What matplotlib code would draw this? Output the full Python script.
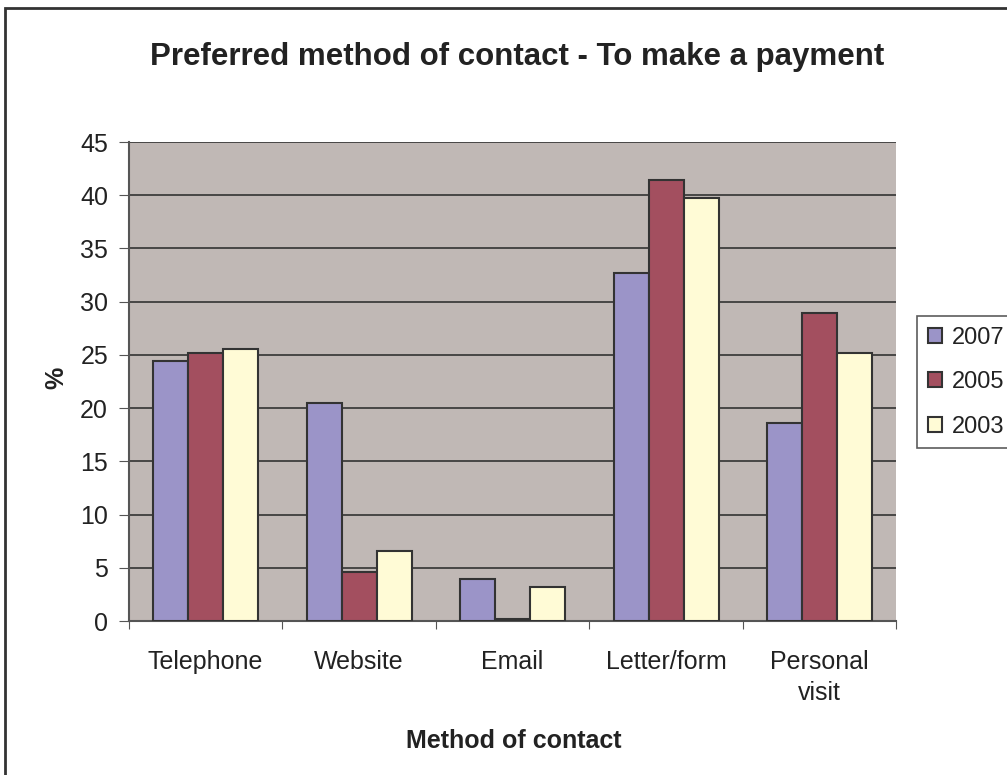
import matplotlib.pyplot as plt
import numpy as np
from matplotlib.patches import Rectangle

plt.rcParams['font.family'] = ['Liberation Sans', 'DejaVu Sans']

# Share of respondents (%) by method of contact
methods = ['Telephone', 'Website', 'Email', 'Letter/form', 'Personal\nvisit']
years = ['2007', '2005', '2003']
v2007 = [24.4, 20.5, 3.9, 32.7, 18.6]
v2005 = [25.2, 4.6, 0.2, 41.4, 28.9]
v2003 = [25.6, 6.6, 3.2, 39.7, 25.2]
colors = ['#9b94c8', '#a34f5f', '#fffbd6']

fig = plt.figure(figsize=(10.07, 7.75), dpi=100)
ax = fig.add_axes([0.128, 0.1987, 0.762, 0.618])
ax.set_facecolor('#c0b8b5')

x = np.arange(len(methods))
w = 0.228
for i, (vals, lab, c) in enumerate(zip([v2007, v2005, v2003], years, colors)):
    ax.bar(x + (i - 1) * w, vals, width=w, color=c, edgecolor='#333333',
           linewidth=1.5, label=lab, zorder=3)

ax.set_xlim(-0.5, len(methods) - 0.5)
ax.set_ylim(0, 45)
ax.set_yticks(np.arange(0, 46, 5))
ax.yaxis.grid(True, color='#333333', linewidth=1.2, zorder=1)
ax.set_axisbelow(True)

# category labels sit between boundary ticks
ax.set_xticks(np.arange(-0.5, len(methods), 1.0))
ax.set_xticklabels([])
ax.set_xticks(x, minor=True)
ax.set_xticklabels(methods, minor=True, fontsize=18, linespacing=1.35,
                   color='#222222')
ax.tick_params(axis='x', which='minor', length=0, pad=21)
ax.tick_params(axis='x', which='major', length=6, color='#555555')
ax.tick_params(axis='y', length=7, color='#555555', labelsize=18, pad=8,
               labelcolor='#222222')

for side in ['top', 'right']:
    ax.spines[side].set_visible(False)
ax.spines['left'].set_color('#555555')
ax.spines['left'].set_linewidth(1.5)
ax.spines['bottom'].set_color('#555555')
ax.spines['bottom'].set_linewidth(1.5)

fig.text(0.51, 1 - 741 / 775, 'Method of contact', ha='center', va='center',
         fontsize=18, fontweight='bold', color='#222222')
fig.text(56 / 1007, 1 - 378 / 775, '%', ha='center', va='center', rotation=90,
         fontsize=18, fontweight='bold', color='#222222')
fig.text(0.514, 1 - 57 / 775, 'Preferred method of contact - To make a payment',
         ha='center', va='center', fontsize=22.5, fontweight='bold', color='#222222')

leg = fig.legend(loc='upper left', bbox_to_anchor=(0.911, 0.592), fontsize=17,
                 fancybox=False, frameon=True, edgecolor='#333333',
                 handlelength=0.6, handleheight=0.6, handletextpad=0.4,
                 labelspacing=0.95, borderpad=0.45, borderaxespad=0)
leg.get_frame().set_linewidth(1.2)
for t in leg.get_texts():
    t.set_color('#222222')

# outer chart border
fig.patches.append(Rectangle((5 / 1007, -0.1), 1.1, 1.1 - 8 / 775,
                             transform=fig.transFigure, fill=False,
                             edgecolor='#333333', linewidth=2))

fig.savefig('out.png', dpi=100)
